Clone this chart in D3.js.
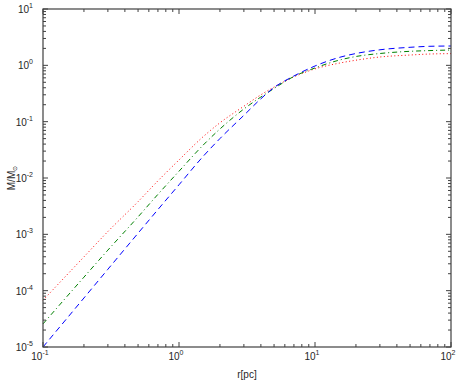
<!DOCTYPE html>
<html lang="en">
<head>
    <meta charset="UTF-8">
    <title>M/Msun vs r</title>
    <script src="https://d3js.org/d3.v7.min.js"></script>
    <style>
        body { margin: 0; background: #fff; }
        svg { display: block; }
        .tick-label { font: 10px "Liberation Sans", Arial, sans-serif; fill: #262626; }
        .axis-title { font: 10px "Liberation Sans", Arial, sans-serif; fill: #262626; }
        .frame { fill: none; stroke: #404040; stroke-width: 1.2px; }
        .tick { stroke: #404040; stroke-width: 1px; }
        .curve { fill: none; stroke-width: 1px; }
    </style>
</head>
<body>
<svg width="458" height="382"></svg>
<script>
    // radius samples [pc]
    const radius = [0.1, 0.2, 0.3, 0.5, 0.7, 1, 1.5, 2, 3, 4, 5, 7, 10, 15, 20, 30, 50, 70, 100];

    // log10(M/Msun)
    const logRed   = [-4.17, -3.40, -2.95, -2.42, -2.05, -1.68, -1.27, -1.02, -0.726, -0.523, -0.386, -0.204, -0.063, 0.038, 0.091, 0.148, 0.183, 0.201, 0.208];
    const logGreen = [-4.59, -3.76, -3.28, -2.69, -2.29, -1.88, -1.42, -1.13, -0.775, -0.562, -0.411, -0.197, -0.047, 0.091, 0.157, 0.210, 0.249, 0.262, 0.272];
    const logBlue  = [-5.00, -4.13, -3.62, -2.98, -2.56, -2.12, -1.62, -1.30, -0.887, -0.594, -0.394, -0.189, -0.012, 0.139, 0.210, 0.276, 0.320, 0.338, 0.343];

    const xDecades = [-1, 0, 1, 2];
    const yDecades = [-5, -4, -3, -2, -1, 0, 1];

    const series = [
        { name: 'red',   values: logRed,   color: '#ff0000', dash: '1,2.5' },
        { name: 'green', values: logGreen, color: '#008000', dash: '5,3,1,3' },
        { name: 'blue',  values: logBlue,  color: '#0000ff', dash: '6,4' }
    ];

    const svg = d3.select('svg');
    const padL = 43, padR = 451, padT = 9, padB = 347;

    const x = d3.scaleLog().domain([0.1, 100]).range([padL, padR]);
    const y = d3.scaleLog().domain([1e-5, 10]).range([padB, padT]);

    // curves
    const line = d3.line()
        .x(d => x(d[0]))
        .y(d => y(d[1]))
        .curve(d3.curveMonotoneX);

    svg.append('g')
        .selectAll('path')
        .data(series)
        .join('path')
        .attr('class', 'curve')
        .attr('stroke', d => d.color)
        .attr('stroke-dasharray', d => d.dash)
        .attr('d', d => line(radius.map((r, i) => [r, Math.pow(10, d.values[i])])));

    // ticks (inward, on all four sides)
    const ticks = svg.append('g');
    const isMajor = v => Math.abs(Math.log10(v) - Math.round(Math.log10(v))) < 1e-9;

    x.ticks().forEach(v => {
        const len = isMajor(v) ? 5 : 3;
        const px = x(v);
        ticks.append('line').attr('class', 'tick')
            .attr('x1', px).attr('x2', px).attr('y1', padB).attr('y2', padB - len);
        ticks.append('line').attr('class', 'tick')
            .attr('x1', px).attr('x2', px).attr('y1', padT).attr('y2', padT + len);
    });

    y.ticks().forEach(v => {
        const len = isMajor(v) ? 5 : 3;
        const py = y(v);
        ticks.append('line').attr('class', 'tick')
            .attr('x1', padL).attr('x2', padL + len).attr('y1', py).attr('y2', py);
        ticks.append('line').attr('class', 'tick')
            .attr('x1', padR).attr('x2', padR - len).attr('y1', py).attr('y2', py);
    });

    svg.append('rect').attr('class', 'frame')
        .attr('x', padL).attr('y', padT)
        .attr('width', padR - padL).attr('height', padB - padT);

    // tick labels
    xDecades.forEach(e => {
        const t = svg.append('text').attr('class', 'tick-label')
            .attr('x', x(Math.pow(10, e)) - 3).attr('y', 360)
            .attr('text-anchor', 'middle');
        t.append('tspan').text('10');
        t.append('tspan').attr('dy', -5).attr('font-size', 7).text(e);
    });

    yDecades.forEach(e => {
        const t = svg.append('text').attr('class', 'tick-label')
            .attr('x', 33).attr('y', y(Math.pow(10, e)) + 4)
            .attr('text-anchor', 'end');
        t.append('tspan').text('10');
        t.append('tspan').attr('dy', -5).attr('font-size', 7).text(e);
    });

    // axis titles
    svg.append('text').attr('class', 'axis-title')
        .attr('x', 247).attr('y', 378)
        .attr('text-anchor', 'middle')
        .text('r[pc]');

    const yt = svg.append('text').attr('class', 'axis-title')
        .attr('transform', 'translate(15,178) rotate(-90)')
        .attr('text-anchor', 'middle');
    yt.append('tspan').text('M/M');
    yt.append('tspan').attr('dy', 2).attr('font-size', 6).text('⊙');
</script>
</body>
</html>
